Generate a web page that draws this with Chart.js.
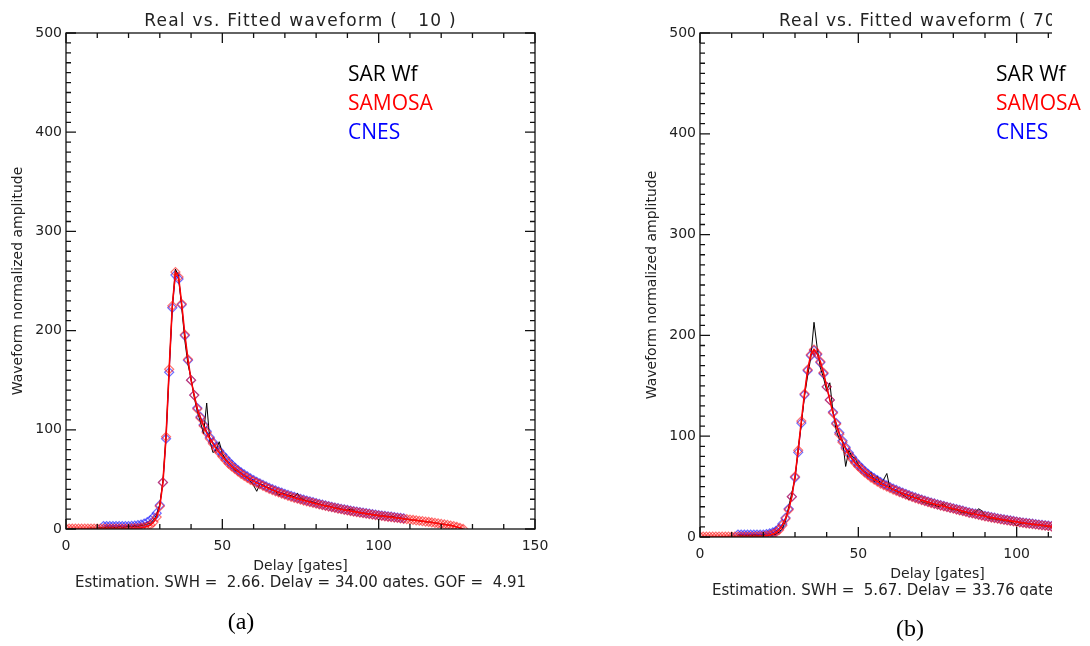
<!DOCTYPE html>
<html>
<head>
<meta charset="utf-8">
<script src="https://cdn.jsdelivr.net/npm/chart.js@4"></script>
<style>
  body { margin: 0; background: #fff; width: 1090px; height: 646px; overflow: hidden; position: relative; }
  #wrapA { position: absolute; left: 0; top: 0; width: 560px; height: 646px; }
  #wrapB { position: absolute; left: 545px; top: 0; width: 507px; height: 646px; overflow: hidden; }
  .lab { position: absolute; width: 60px; text-align: center; font-family: "Liberation Serif"; font-size: 24px; line-height: 24px; color: #000; }
  .leg { position: absolute; font-family: "Open Sans"; font-size: 21px; line-height: 29px; white-space: nowrap; }
</style>
</head>
<body>
<div id="wrapA"><canvas id="chartA" width="560" height="646"></canvas></div>
<div id="wrapB"><canvas id="chartB" width="640" height="646"></canvas></div>

<div class="leg" style="left:348px; top:59px;">
  <div style="color:#000">SAR Wf</div><div style="color:#ff0000">SAMOSA</div><div style="color:#0000ff">CNES</div>
</div>
<div class="leg" style="left:996px; top:59px;">
  <div style="color:#000">SAR Wf</div><div style="color:#ff0000">SAMOSA</div><div style="color:#0000ff">CNES</div>
</div>
<div class="lab" style="left:211px; top:609px;">(a)</div>
<div class="lab" style="left:880px; top:616px;">(b)</div>

<script>
// panel (a): values per gate, first entry at gate 0 (CNES starts at gate 12)
const sarA = [
  0, 0, 0.5, 0, 0.5, 0, 0.5, 0.5, 1, 0.5,
  1, 1.5, 1, 2, 1.5, 2, 1, 2.5, 1.5, 2,
  2.5, 2, 3, 2.5, 3.5, 4, 5, 6, 9, 14,
  25, 48, 95, 162, 224, 262, 255, 224, 190, 166,
  152, 133, 118, 108, 96, 127, 89, 77, 80, 88,
  76, 70, 66, 63, 59, 58, 56, 53, 52, 48,
  44, 38, 45, 44, 42, 41, 39, 38, 34, 36,
  35, 33, 34, 32, 36, 31, 30, 28, 28, 27,
  26, 25, 24, 23, 23, 22, 21, 21, 20, 19,
  19, 20, 19, 17, 16, 16, 15, 15, 14, 14,
  13, 13, 13, 12, 13, 12, 11, 11, 10, 10,
  9, 9, 9, 8, 8, 7, 7, 7, 6, 6,
  5, 5, 4, 4, 3, 2, 1, 0
];
const samosaA = [
  0.5, 0.5, 0.5, 0.5, 0.5, 0.5, 0.5, 0.5, 0.5, 0.5,
  0.5, 0.5, 0.5, 0.5, 0.5, 0.5, 0.5, 0.5, 0.5, 0.5,
  0.5, 0.6, 0.8, 1, 1.3, 1.8, 2.5, 4, 7, 12,
  23, 47, 93, 161, 225, 259, 254, 227, 196, 171,
  150, 135, 121, 112, 104, 97, 91, 86, 81, 77,
  73, 69.5, 66, 63, 60.5, 58, 55.5, 53.5, 51.5, 49.5,
  48, 46.5, 45, 43.5, 42, 40.5, 39.2, 38, 36.8, 35.6,
  34.5, 33.4, 32.4, 31.4, 30.5, 29.6, 28.7, 27.9, 27.1, 26.3,
  25.5, 24.7, 24, 23.3, 22.6, 21.9, 21.2, 20.5, 19.9, 19.3,
  18.7, 18.1, 17.5, 17, 16.5, 16, 15.5, 15, 14.5, 14,
  13.5, 13.1, 12.7, 12.3, 11.9, 11.5, 11.1, 10.7, 10.3, 9.9,
  9.5, 9.1, 8.7, 8.3, 7.9, 7.5, 7.1, 6.6, 6.1, 5.6,
  5.1, 4.6, 4.1, 3.5, 2.9, 2.1, 1.2, 0.2
];
const cnesA = [
  3, 3, 3, 3, 3, 3, 3, 3,
  3, 3.2, 3.5, 4, 4.5, 5.5, 7, 9, 12, 16,
  24, 47, 91, 158, 223, 256, 252, 226, 195, 170,
  150, 135, 122, 113, 105, 98.5, 92.5, 87.5, 83, 79,
  75, 71.5, 68, 65, 62, 59.5, 57, 55, 53, 51,
  49.3, 47.6, 46, 44.5, 43, 41.5, 40.2, 39, 37.8, 36.6,
  35.5, 34.4, 33.4, 32.4, 31.4, 30.5, 29.6, 28.7, 27.9, 27.1,
  26.2, 25.4, 24.6, 23.8, 23.1, 22.4, 21.7, 21, 20.4, 19.8,
  19.2, 18.6, 18, 17.5, 17, 16.5, 16, 15.5, 15, 14.5,
  14, 13.6, 13.2, 12.8, 12.4, 12, 11.6, 11.2, 10.8
];

// panel (b)
const sarB = [
  0, 0.5, 0, 0.5, 0, 0.5, 0.5, 0, 0.5, 0.5,
  1, 0.5, 1, 1.5, 1, 1.5, 1, 2, 1.5, 1,
  2, 1.5, 2, 2, 3, 5, 8, 16, 30, 44,
  58, 88, 112, 140, 160, 178, 213, 188, 168, 158,
  145, 153, 124, 106, 97, 96, 70, 86, 80, 78,
  72, 67, 64, 60, 64, 55, 60, 52, 57, 63,
  48, 47, 45, 44, 42, 40, 37, 41, 38, 39,
  35, 34, 33, 32, 32, 30, 31, 33, 29, 28,
  27, 27, 25, 24, 24, 23, 22, 25, 28, 26,
  21, 19, 18, 18, 17, 17, 16, 16, 15, 14,
  11, 13, 14, 13, 13, 12, 12, 12, 11, 11,
  10, 10, 10
];
const samosaB = [
  0.5, 0.5, 0.5, 0.5, 0.5, 0.5, 0.5, 0.5, 0.5, 0.5,
  0.5, 0.5, 0.5, 0.5, 0.5, 0.5, 0.5, 0.5, 0.6, 0.8,
  1, 1.4, 2, 3, 4.5, 7, 11.5, 18, 27, 40,
  60, 86, 115, 142, 166, 181, 186, 182, 174, 163,
  149, 136, 123, 112, 102, 94, 87.5, 82, 77.5, 73.5,
  70, 67, 64, 61.5, 59, 57, 55, 53, 51.5, 50,
  48.5, 47, 45.7, 44.4, 43.2, 42, 40.8, 39.7, 38.6, 37.5,
  36.5, 35.5, 34.6, 33.7, 32.8, 32, 31.2, 30.4, 29.6, 28.9,
  28, 27.2, 26.4, 25.6, 24.8, 24, 23.3, 22.6, 21.9, 21.2,
  20.5, 19.9, 19.3, 18.7, 18.1, 17.5, 17, 16.5, 16, 15.5,
  15, 14.5, 14, 13.6, 13.2, 12.8, 12.4, 12, 11.6, 11.2,
  10.8, 10.4, 10
];
const cnesB = [
  2.5, 2.5, 2.5, 2.5, 2.5, 2.5, 2.5, 2.5,
  2.5, 3, 3.5, 4.5, 6, 8.5, 13, 19, 28, 40,
  59, 84, 113, 141, 165, 180, 185, 181, 173, 162,
  149, 136, 124, 113, 103.5, 95.5, 89, 83.5, 79, 75,
  71.5, 68.5, 65.5, 63, 60.5, 58.5, 56.5, 54.5, 52.8, 51.2,
  49.6, 48.1, 46.7, 45.3, 44, 42.8, 41.6, 40.4, 39.3, 38.2,
  37.1, 36.1, 35.1, 34.2, 33.3, 32.4, 31.6, 30.8, 30, 29.2,
  28.5, 27.7, 26.9, 26.1, 25.3, 24.5, 23.8, 23.1, 22.4, 21.7,
  21, 20.4, 19.8, 19.2, 18.6, 18, 17.4, 16.9, 16.4, 15.9,
  15.4, 14.9, 14.4, 14, 13.6, 13.2, 12.8, 12.4, 12, 11.6,
  11.2, 10.8, 10.4
];
const cnesStart = 12;

const titleA = "Real vs. Fitted waveform (   10 )";
const titleB = "Real vs. Fitted waveform ( 70";
const estA = "Estimation. SWH =  2.66. Delay = 34.00 gates. GOF =  4.91";
const estB = "Estimation. SWH =  5.67. Delay = 33.76 gates. GOF =";

const txt = "#222";

function series(start, vals) {
  return vals.map((v, i) => ({ x: start + i, y: v }));
}

// box, inward ticks on all four sides, and the IDL-style texts
const frame = {
  id: "frame",
  afterDraw(chart, args, o) {
    const { ctx, chartArea: a, scales: { x, y } } = chart;
    ctx.save();
    ctx.strokeStyle = "#111";
    ctx.lineWidth = 1.3;
    ctx.strokeRect(a.left, a.top, a.right - a.left, a.bottom - a.top);
    ctx.beginPath();
    for (let v = x.min; v <= x.max; v += 10) {
      const px = x.getPixelForValue(v);
      const len = v % 50 === 0 ? 10 : 5;
      ctx.moveTo(px, a.bottom); ctx.lineTo(px, a.bottom - len);
      ctx.moveTo(px, a.top); ctx.lineTo(px, a.top + len);
    }
    for (let v = y.min; v <= y.max; v += 10) {
      const py = y.getPixelForValue(v);
      const len = v % 100 === 0 ? 10 : 5;
      ctx.moveTo(a.left, py); ctx.lineTo(a.left + len, py);
      ctx.moveTo(a.right, py); ctx.lineTo(a.right - len, py);
    }
    ctx.stroke();

    const cx = (a.left + a.right) / 2;
    ctx.fillStyle = txt;
    ctx.textBaseline = "alphabetic";

    ctx.font = '17px "DejaVu Sans"';
    ctx.letterSpacing = o.spacing;
    const tw = ctx.measureText(titleA).width;
    ctx.textAlign = "left";
    ctx.fillText(o.title, o.titleX != null ? o.titleX : cx - tw / 2, 26);
    ctx.letterSpacing = "0px";

    ctx.font = '14px "DejaVu Sans"';
    ctx.textAlign = "center";
    ctx.fillText("Delay [gates]", cx, a.bottom + 41);

    ctx.font = '15px "DejaVu Sans"';
    const ew = ctx.measureText(estA).width;
    ctx.save();
    ctx.beginPath();
    ctx.rect(0, 0, chart.width, a.bottom + 58.5);
    ctx.clip();
    ctx.textAlign = "left";
    ctx.fillText(o.est, cx - ew / 2, a.bottom + 58);
    ctx.restore();

    ctx.save();
    ctx.font = '14px "DejaVu Sans"';
    ctx.translate(a.left - 48, (a.top + a.bottom) / 2);
    ctx.rotate(-Math.PI / 2);
    ctx.textAlign = "center";
    ctx.textBaseline = "middle";
    ctx.fillText("Waveform normalized amplitude", 0, 0);
    ctx.restore();

    ctx.restore();
  }
};

function makeChart(id, sar, samosa, cnes, yw, xh, padRight, frameOpts) {
  const tickFont = { family: "DejaVu Sans", size: 14 };
  return new Chart(document.getElementById(id), {
    type: "line",
    data: {
      datasets: [
        { label: "SAMOSA", data: series(0, samosa), borderColor: "#ff0000", borderWidth: 1.6,
          pointStyle: "rectRot", pointRadius: 4.5, pointBorderWidth: 1.2,
          pointBorderColor: "rgba(255,20,20,0.6)", pointBackgroundColor: "rgba(0,0,0,0)", order: 0 },
        { label: "SAR Wf", data: series(0, sar), borderColor: "#000", borderWidth: 1,
          pointRadius: 0, order: 1 },
        { label: "CNES", data: series(cnesStart, cnes), borderColor: "#0000ff", borderWidth: 1,
          pointStyle: "rectRot", pointRadius: 4.5, pointBorderWidth: 1.2,
          pointBorderColor: "rgba(30,30,255,0.65)", pointBackgroundColor: "rgba(0,0,0,0)", order: 2 }
      ]
    },
    options: {
      responsive: false,
      animation: false,
      events: [],
      layout: { autoPadding: false, padding: { top: 33, right: padRight, left: 0, bottom: 0 } },
      elements: { line: { tension: 0 } },
      plugins: {
        legend: { display: false },
        tooltip: { enabled: false },
        frame: frameOpts
      },
      scales: {
        x: {
          type: "linear", min: 0, max: 150,
          afterFit: s => { s.height = xh; s.paddingLeft = 0; s.paddingRight = 0; },
          grid: { display: false, drawTicks: false },
          border: { display: false },
          ticks: { stepSize: 50, padding: 9, color: txt, font: tickFont, maxRotation: 0, autoSkip: false }
        },
        y: {
          type: "linear", min: 0, max: 500,
          afterFit: s => { s.width = yw; s.paddingTop = 0; s.paddingBottom = 0; },
          grid: { display: false, drawTicks: false },
          border: { display: false },
          ticks: { stepSize: 100, padding: 4, color: txt, font: tickFont }
        }
      }
    },
    plugins: [frame]
  });
}

makeChart("chartA", sarA, samosaA, cnesA, 66, 117, 25,
  { title: titleA, est: estA, spacing: "1.25px" });
makeChart("chartB", sarB, samosaB, cnesB, 155, 109, 10,
  { title: titleB, est: estB, spacing: "1px", titleX: 234 });
</script>
</body>
</html>
